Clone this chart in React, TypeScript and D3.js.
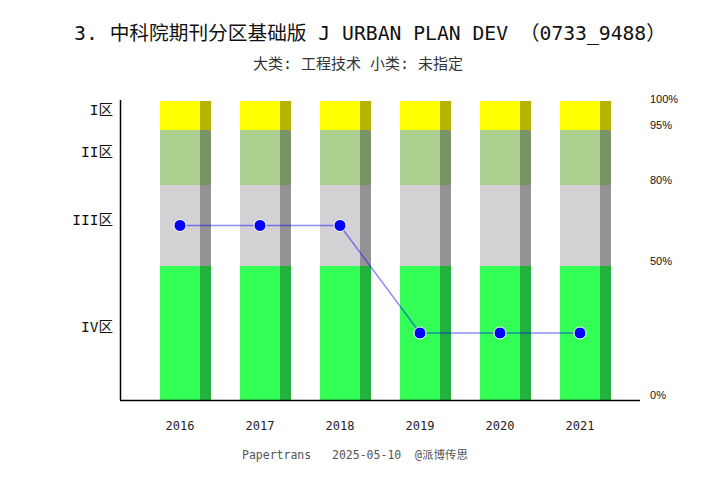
import React from "react";
import * as d3 from "d3";

const years = ["2016", "2017", "2018", "2019", "2020", "2021"];
const zoneOfYear = [3, 3, 3, 4, 4, 4];
const zoneLabels = ["I区", "II区", "III区", "IV区"];
// zone bounds in percent (top, bottom)
const zoneTop = [100, 95, 80, 50];
const zoneBottom = [95, 80, 50, 0];
const zoneColors = ["#FFFF00", "#ABD190", "#D3D1D3", "#33FF57"];
const zoneDark = ["#B4B400", "#769464", "#949294", "#24B23E"];
const pctTicks = [100, 95, 80, 50, 0];
const title = "3.  中科院期刊分区基础版 J URBAN PLAN DEV （0733_9488）";
const subtitle = "大类: 工程技术 小类: 未指定";
const footer = "Papertrans   2025-05-10  @派博传思";

const W = 720, H = 480;
const mono = "'DejaVu Sans Mono', 'Noto Sans CJK SC', monospace";

export default function App() {
  const y = d3.scaleLinear().domain([0, 50, 80, 95, 100]).range([400, 266, 185, 130, 101]);
  const x = d3.scaleBand().domain(years).range([140, 620]).paddingInner(0).paddingOuter(0);
  const cx = (yr: string) => (x(yr) as number) + x.bandwidth() / 2;
  const zoneCenter = (z: number) => (y(zoneTop[z - 1]) + y(zoneBottom[z - 1])) / 2;
  const line = d3.line<number>().x((_, i) => cx(years[i])).y((z) => zoneCenter(z));
  const lightW = 40, darkW = 11;
  return (
    <svg width={W} height={H} style={{ display: "block", margin: "-8px" }} fontFamily={mono}>
      <rect width={W} height={H} fill="#fff" />
      <text x={370} y={40} textAnchor="middle" fontSize={19.7} fill="#111">{title}</text>
      <text x={358} y={69} textAnchor="middle" fontSize={15} fill="#333">{subtitle}</text>
      {years.map((yr) => (
        <g key={yr}>
          {zoneTop.map((t, i) => (
            <g key={i}>
              <rect x={cx(yr) - 20} y={y(t)} width={lightW} height={y(zoneBottom[i]) - y(t)} fill={zoneColors[i]} />
              <rect x={cx(yr) + 20} y={y(t)} width={darkW} height={y(zoneBottom[i]) - y(t)} fill={zoneDark[i]} />
            </g>
          ))}
          <text x={cx(yr)} y={430} textAnchor="middle" fontSize={12} fill="#222">{yr}</text>
        </g>
      ))}
      <line x1={120.5} x2={120.5} y1={100} y2={400} stroke="#000" strokeWidth={1.5} />
      <line x1={120} x2={640} y1={400.5} y2={400.5} stroke="#000" strokeWidth={1.5} />
      {zoneLabels.map((lab, i) => (
        <text key={lab} x={113} y={zoneCenter(i + 1) - 1} textAnchor="end" fontSize={14.5} fill="#111">{lab}</text>
      ))}
      {pctTicks.map((p) => (
        <text key={p} x={650} y={p === 0 ? 399 : p === 100 ? y(p) + 2 : y(p) - 1} fontSize={11} fill="#111" fontFamily="'Liberation Sans', Arial, sans-serif">{p}%</text>
      ))}
      <path d={line(zoneOfYear) || ""} fill="none" stroke="#0000ff" strokeOpacity={0.45} strokeWidth={1.5} />
      {zoneOfYear.map((z, i) => (
        <circle key={i} cx={cx(years[i])} cy={zoneCenter(z)} r={6} fill="#0000ff" stroke="#fff" strokeWidth={1} />
      ))}
      <text x={355} y={459} textAnchor="middle" fontSize={11.5} fill="#555" xmlSpace="preserve">{footer}</text>
    </svg>
  );
}
